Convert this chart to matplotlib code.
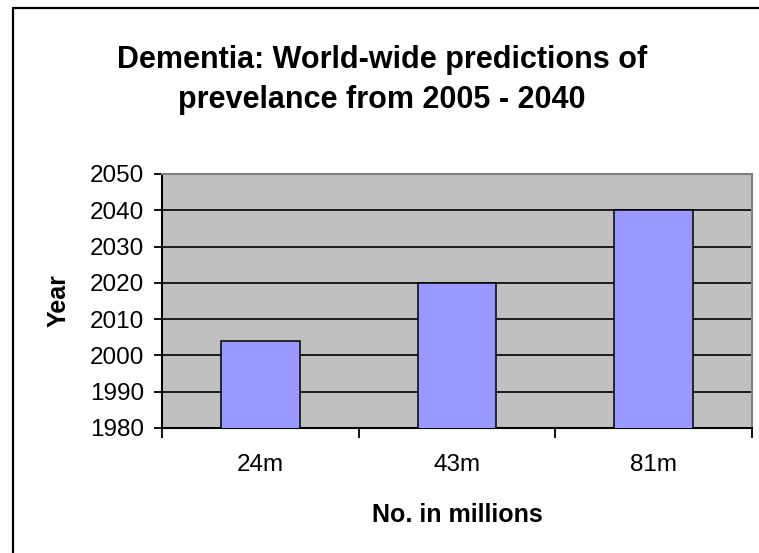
import matplotlib.pyplot as plt
from matplotlib.lines import Line2D

# data
counts = ["24m", "43m", "81m"]
years = [2004, 2020, 2040]
y_ticks = [1980, 1990, 2000, 2010, 2020, 2030, 2040, 2050]

BAR_COLOR = "#9999FF"
PLOT_BG = "#C0C0C0"

plt.rcParams.update({
    "font.family": ["Liberation Sans", "DejaVu Sans"],
})

W, H = 759, 553
fig = plt.figure(figsize=(W / 100, H / 100), dpi=100)

# chart area border: only the left and top edges fall inside the image
left_x, top_y = 13 / W, 1 - 8 / H
fig.lines.append(Line2D([left_x, left_x, 1.02], [-0.02, top_y, top_y],
                        transform=fig.transFigure, color="black",
                        linewidth=1.6, solid_joinstyle="miter"))

ax = fig.add_axes([162 / W, 1 - 428 / H, (752 - 162) / W, (428 - 174) / H])
ax.set_facecolor(PLOT_BG)

xs = list(range(len(counts)))
ax.bar(xs, years, width=0.4, color=BAR_COLOR, edgecolor="black",
       linewidth=1.1, zorder=3)

ax.set_xlim(-0.5, len(counts) - 0.5)
ax.set_ylim(1980, 2050)
ax.set_yticks(y_ticks)
ax.set_yticklabels([str(y) for y in y_ticks], fontsize=17.5)
ax.yaxis.grid(True, color="black", linewidth=1.2, zorder=1)
ax.set_axisbelow(True)

ax.set_xticks(xs)
ax.set_xticklabels(counts, fontsize=17.5)
ax.set_xticks([i - 0.5 for i in range(len(counts) + 1)], minor=True)
ax.tick_params(axis="x", which="major", length=0, pad=19)
ax.tick_params(axis="x", which="minor", length=7, width=1.3, direction="out")
ax.tick_params(axis="y", length=6, width=1.3, pad=7)

for side in ("left", "bottom"):
    ax.spines[side].set_linewidth(1.5)
    ax.spines[side].set_color("black")
for side in ("top", "right"):
    ax.spines[side].set_linewidth(1.5)
    ax.spines[side].set_color("#808080")

ax.set_xlabel("No. in millions", fontsize=18, fontweight="bold", labelpad=19)
ax.set_ylabel("Year", fontsize=18, fontweight="bold", labelpad=14)

fig.text(382 / W, 1 - 80 / H,
         "Dementia: World-wide predictions of\nprevelance from 2005 - 2040",
         ha="center", va="center", fontsize=22, fontweight="bold",
         linespacing=1.45)

fig.savefig("out.png", dpi=100)
